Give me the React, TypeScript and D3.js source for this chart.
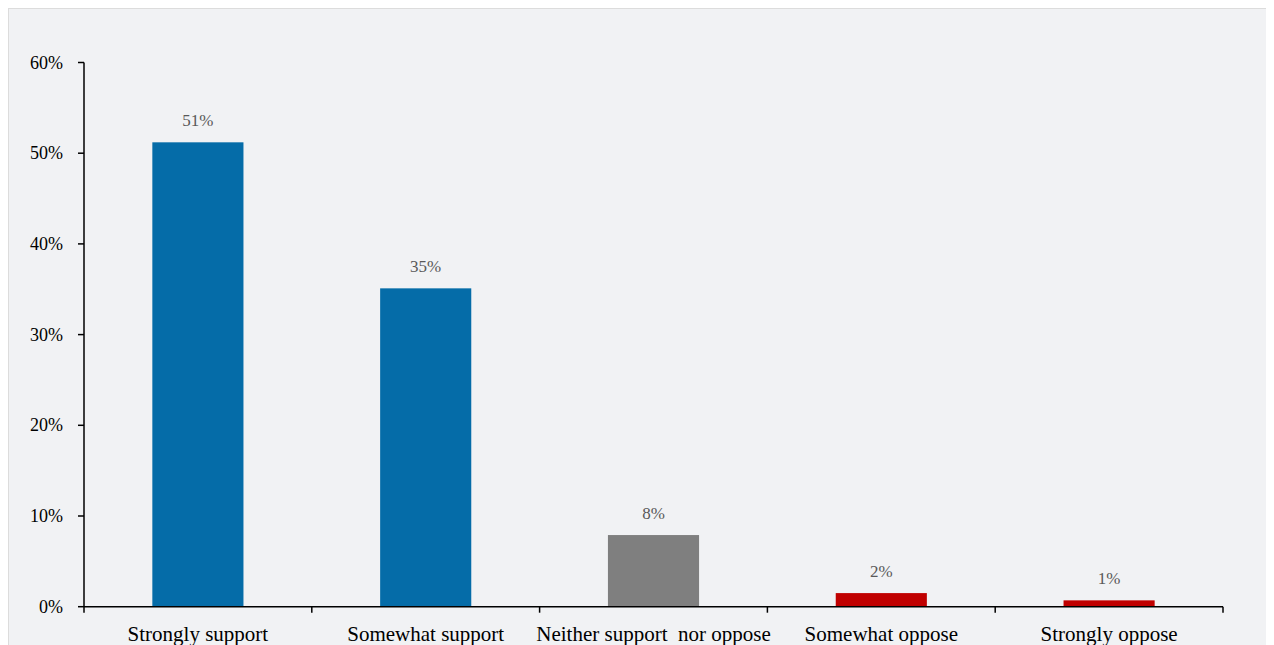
import React, { useEffect, useRef } from "react";
import * as d3 from "d3";

const categories = [
  "Strongly support",
  "Somewhat support",
  "Neither support  nor oppose",
  "Somewhat oppose",
  "Strongly oppose",
];
const values = [51.2, 35.1, 7.9, 1.5, 0.7];
const valueLabels = ["51%", "35%", "8%", "2%", "1%"];
const barColors = ["#056ca8", "#056ca8", "#7f7f7f", "#c00000", "#c00000"];
const yTicks = [0, 10, 20, 30, 40, 50, 60];

const W = 1266;
const H = 637;

export default function App() {
  const ref = useRef<SVGSVGElement>(null);

  useEffect(() => {
    const svg = d3.select(ref.current);
    svg.selectAll("*").remove();

    // panel (svg origin is at page 8,8)
    svg
      .append("rect")
      .attr("x", 0)
      .attr("y", 0)
      .attr("width", W + 4)
      .attr("height", H + 4)
      .attr("fill", "#f1f2f4")
      .attr("stroke", "#dcdcdc")
      .attr("stroke-width", 2);

    const x0 = 76, x1 = 1215, y0 = 598.7, y1 = 54.5;
    const x = d3.scaleBand<string>().domain(categories).range([x0, x1]).paddingInner(0.6).paddingOuter(0.3);
    const xb = d3.scaleBand<string>().domain(categories).range([x0, x1]);
    const y = d3.scaleLinear().domain([0, 60]).range([y0, y1]);
    const font = "'Liberation Serif', 'DejaVu Serif', serif";

    // bars
    svg
      .selectAll("rect.bar")
      .data(categories)
      .join("rect")
      .attr("class", "bar")
      .attr("x", (d) => x(d)!)
      .attr("width", x.bandwidth())
      .attr("y", (_, i) => y(values[i]))
      .attr("height", (_, i) => y0 - y(values[i]))
      .attr("fill", (_, i) => barColors[i]);

    // value labels
    svg
      .selectAll("text.val")
      .data(categories)
      .join("text")
      .attr("class", "val")
      .attr("x", (d) => x(d)! + x.bandwidth() / 2)
      .attr("y", (_, i) => y(values[i]) - 16)
      .attr("text-anchor", "middle")
      .attr("font-family", font)
      .attr("font-size", 17)
      .attr("fill", "#595959")
      .text((_, i) => valueLabels[i]);

    // y axis
    const g = svg.append("g").attr("stroke", "#000").attr("stroke-width", 1.5);
    g.append("line").attr("x1", x0).attr("x2", x0).attr("y1", y1).attr("y2", y0);
    g.selectAll("line.yt")
      .data(yTicks)
      .join("line")
      .attr("class", "yt")
      .attr("x1", x0 - 6)
      .attr("x2", x0)
      .attr("y1", (d) => y(d))
      .attr("y2", (d) => y(d));
    svg
      .selectAll("text.yl")
      .data(yTicks)
      .join("text")
      .attr("class", "yl")
      .attr("x", x0 - 21)
      .attr("y", (d) => y(d) + 6)
      .attr("text-anchor", "end")
      .attr("font-family", font)
      .attr("font-size", 18)
      .attr("fill", "#000")
      .text((d) => `${d}%`);

    // x axis
    g.append("line").attr("x1", x0).attr("x2", x1).attr("y1", y0).attr("y2", y0);
    const bounds = categories.map((c) => xb(c)!).concat([x1]);
    g.selectAll("line.xt")
      .data(bounds)
      .join("line")
      .attr("class", "xt")
      .attr("x1", (d) => d)
      .attr("x2", (d) => d)
      .attr("y1", y0)
      .attr("y2", y0 + 6);
    svg
      .selectAll("text.xl")
      .data(categories)
      .join("text")
      .attr("class", "xl")
      .attr("x", (d) => xb(d)! + xb.bandwidth() / 2)
      .attr("y", y0 + 34)
      .attr("text-anchor", "middle")
      .attr("font-family", font)
      .attr("font-size", 21)
      .attr("fill", "#000")
      .style("white-space", "pre")
      .text((d) => d);
  }, []);

  return (
    <>
      <style>{`html{overflow:hidden}`}</style>
      <svg ref={ref} width={W} height={H} style={{ display: "block" }} />
    </>
  );
}
